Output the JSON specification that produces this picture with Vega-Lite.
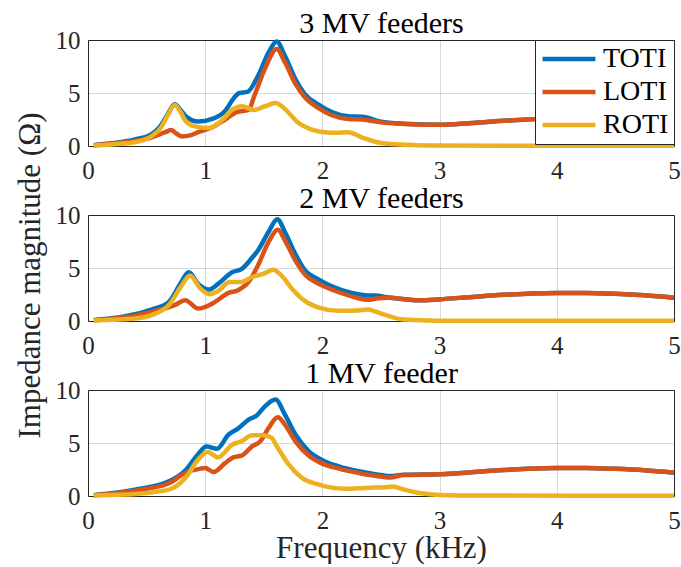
{
  "$schema": "https://vega.github.io/schema/vega-lite/v6.json",
  "padding": {"left": 13, "top": 7, "right": 0, "bottom": 0},
  "background": "white",
  "spacing": 69,
  "bounds": "flush",
  "resolve": {"scale": {"color": "independent"}, "legend": {"color": "independent"}},
  "config": {
    "font": "Liberation Serif",
    "view": {"stroke": "#262626", "strokeWidth": 1},
    "axis": {
      "labelFont": "Liberation Serif", "labelFontSize": 25, "labelColor": "#262626", "labelFlush": false,
      "titleFont": "Liberation Serif", "titleFontSize": 31, "titleFontWeight": "normal", "titleColor": "#262626",
      "grid": true, "gridColor": "#262626", "gridOpacity": 0.18, "gridWidth": 1,
      "domain": false, "ticks": false, "tickSize": 0
    },
    "axisX": {"labelPadding": 12},
    "axisY": {"labelPadding": 8},
    "legend": {
      "labelFont": "Liberation Serif", "labelFontSize": 28, "labelColor": "#000000",
      "strokeColor": "#262626", "fillColor": "white", "padding": 5, "cornerRadius": 0,
      "symbolType": "stroke", "symbolSize": 2800, "symbolStrokeWidth": 4.5,
      "rowPadding": 5, "labelOffset": 5, "clipHeight": 28
    }
  },
  "datasets": {
    "d": [
      {"p":3,"s":"TOTI","f":0.05,"z":0.08},{"p":3,"s":"TOTI","f":0.2,"z":0.25},{"p":3,"s":"TOTI","f":0.4,"z":0.62},{"p":3,"s":"TOTI","f":0.54,"z":1.1},{"p":3,"s":"TOTI","f":0.62,"z":1.9},{"p":3,"s":"TOTI","f":0.68,"z":3.0},{"p":3,"s":"TOTI","f":0.74,"z":3.95},{"p":3,"s":"TOTI","f":0.79,"z":3.4},{"p":3,"s":"TOTI","f":0.84,"z":2.75},{"p":3,"s":"TOTI","f":0.94,"z":2.3},{"p":3,"s":"TOTI","f":1.06,"z":2.55},{"p":3,"s":"TOTI","f":1.17,"z":3.3},{"p":3,"s":"TOTI","f":1.25,"z":4.6},{"p":3,"s":"TOTI","f":1.29,"z":5.0},{"p":3,"s":"TOTI","f":1.36,"z":5.1},{"p":3,"s":"TOTI","f":1.45,"z":6.6},{"p":3,"s":"TOTI","f":1.54,"z":8.8},{"p":3,"s":"TOTI","f":1.61,"z":9.85},{"p":3,"s":"TOTI","f":1.68,"z":8.5},{"p":3,"s":"TOTI","f":1.77,"z":6.3},{"p":3,"s":"TOTI","f":1.85,"z":4.9},{"p":3,"s":"TOTI","f":1.97,"z":3.87},{"p":3,"s":"TOTI","f":2.08,"z":3.2},{"p":3,"s":"TOTI","f":2.22,"z":2.8},{"p":3,"s":"TOTI","f":2.34,"z":2.75},{"p":3,"s":"TOTI","f":2.5,"z":2.3},{"p":3,"s":"TOTI","f":2.7,"z":2.1},{"p":3,"s":"TOTI","f":3.0,"z":2.0},{"p":3,"s":"TOTI","f":3.25,"z":2.15},{"p":3,"s":"TOTI","f":3.5,"z":2.35},{"p":3,"s":"TOTI","f":3.75,"z":2.5},{"p":3,"s":"TOTI","f":4.0,"z":2.6},{"p":3,"s":"TOTI","f":4.25,"z":2.62},{"p":3,"s":"TOTI","f":4.5,"z":2.55},{"p":3,"s":"TOTI","f":4.75,"z":2.4},{"p":3,"s":"TOTI","f":5.0,"z":2.2},
      {"p":3,"s":"LOTI","f":0.05,"z":0.08},{"p":3,"s":"LOTI","f":0.2,"z":0.22},{"p":3,"s":"LOTI","f":0.4,"z":0.5},{"p":3,"s":"LOTI","f":0.54,"z":0.8},{"p":3,"s":"LOTI","f":0.66,"z":1.3},{"p":3,"s":"LOTI","f":0.71,"z":1.5},{"p":3,"s":"LOTI","f":0.75,"z":1.2},{"p":3,"s":"LOTI","f":0.8,"z":0.9},{"p":3,"s":"LOTI","f":0.87,"z":1.0},{"p":3,"s":"LOTI","f":0.94,"z":1.3},{"p":3,"s":"LOTI","f":1.06,"z":1.76},{"p":3,"s":"LOTI","f":1.17,"z":2.5},{"p":3,"s":"LOTI","f":1.27,"z":3.2},{"p":3,"s":"LOTI","f":1.37,"z":3.4},{"p":3,"s":"LOTI","f":1.42,"z":4.75},{"p":3,"s":"LOTI","f":1.51,"z":7.3},{"p":3,"s":"LOTI","f":1.61,"z":9.15},{"p":3,"s":"LOTI","f":1.68,"z":7.9},{"p":3,"s":"LOTI","f":1.77,"z":5.85},{"p":3,"s":"LOTI","f":1.85,"z":4.6},{"p":3,"s":"LOTI","f":1.97,"z":3.55},{"p":3,"s":"LOTI","f":2.08,"z":2.9},{"p":3,"s":"LOTI","f":2.22,"z":2.55},{"p":3,"s":"LOTI","f":2.34,"z":2.5},{"p":3,"s":"LOTI","f":2.5,"z":2.23},{"p":3,"s":"LOTI","f":2.7,"z":2.08},{"p":3,"s":"LOTI","f":3.0,"z":2.0},{"p":3,"s":"LOTI","f":3.25,"z":2.15},{"p":3,"s":"LOTI","f":3.5,"z":2.35},{"p":3,"s":"LOTI","f":3.75,"z":2.5},{"p":3,"s":"LOTI","f":4.0,"z":2.6},{"p":3,"s":"LOTI","f":4.25,"z":2.62},{"p":3,"s":"LOTI","f":4.5,"z":2.55},{"p":3,"s":"LOTI","f":4.75,"z":2.4},{"p":3,"s":"LOTI","f":5.0,"z":2.2},
      {"p":3,"s":"ROTI","f":0.05,"z":0.05},{"p":3,"s":"ROTI","f":0.2,"z":0.15},{"p":3,"s":"ROTI","f":0.4,"z":0.35},{"p":3,"s":"ROTI","f":0.54,"z":0.9},{"p":3,"s":"ROTI","f":0.62,"z":1.7},{"p":3,"s":"ROTI","f":0.68,"z":2.9},{"p":3,"s":"ROTI","f":0.74,"z":3.87},{"p":3,"s":"ROTI","f":0.79,"z":3.2},{"p":3,"s":"ROTI","f":0.83,"z":2.4},{"p":3,"s":"ROTI","f":0.91,"z":1.85},{"p":3,"s":"ROTI","f":1.03,"z":1.7},{"p":3,"s":"ROTI","f":1.14,"z":2.4},{"p":3,"s":"ROTI","f":1.24,"z":3.5},{"p":3,"s":"ROTI","f":1.31,"z":3.75},{"p":3,"s":"ROTI","f":1.42,"z":3.4},{"p":3,"s":"ROTI","f":1.51,"z":3.75},{"p":3,"s":"ROTI","f":1.6,"z":4.05},{"p":3,"s":"ROTI","f":1.68,"z":3.5},{"p":3,"s":"ROTI","f":1.79,"z":2.23},{"p":3,"s":"ROTI","f":1.91,"z":1.54},{"p":3,"s":"ROTI","f":2.02,"z":1.3},{"p":3,"s":"ROTI","f":2.12,"z":1.25},{"p":3,"s":"ROTI","f":2.22,"z":1.3},{"p":3,"s":"ROTI","f":2.34,"z":0.8},{"p":3,"s":"ROTI","f":2.45,"z":0.4},{"p":3,"s":"ROTI","f":2.58,"z":0.19},{"p":3,"s":"ROTI","f":2.8,"z":0.08},{"p":3,"s":"ROTI","f":3.0,"z":0.05},{"p":3,"s":"ROTI","f":4.0,"z":0.03},{"p":3,"s":"ROTI","f":5.0,"z":0.03},
      {"p":2,"s":"TOTI","f":0.05,"z":0.08},{"p":2,"s":"TOTI","f":0.2,"z":0.25},{"p":2,"s":"TOTI","f":0.4,"z":0.64},{"p":2,"s":"TOTI","f":0.54,"z":1.08},{"p":2,"s":"TOTI","f":0.69,"z":1.8},{"p":2,"s":"TOTI","f":0.78,"z":3.36},{"p":2,"s":"TOTI","f":0.86,"z":4.6},{"p":2,"s":"TOTI","f":0.94,"z":3.5},{"p":2,"s":"TOTI","f":1.03,"z":2.96},{"p":2,"s":"TOTI","f":1.11,"z":3.5},{"p":2,"s":"TOTI","f":1.23,"z":4.6},{"p":2,"s":"TOTI","f":1.31,"z":4.9},{"p":2,"s":"TOTI","f":1.4,"z":5.96},{"p":2,"s":"TOTI","f":1.45,"z":6.65},{"p":2,"s":"TOTI","f":1.54,"z":8.4},{"p":2,"s":"TOTI","f":1.615,"z":9.6},{"p":2,"s":"TOTI","f":1.68,"z":8.4},{"p":2,"s":"TOTI","f":1.77,"z":6.3},{"p":2,"s":"TOTI","f":1.85,"z":4.8},{"p":2,"s":"TOTI","f":1.97,"z":3.9},{"p":2,"s":"TOTI","f":2.08,"z":3.27},{"p":2,"s":"TOTI","f":2.25,"z":2.64},{"p":2,"s":"TOTI","f":2.39,"z":2.4},{"p":2,"s":"TOTI","f":2.45,"z":2.4},{"p":2,"s":"TOTI","f":2.55,"z":2.25},{"p":2,"s":"TOTI","f":2.83,"z":1.95},{"p":2,"s":"TOTI","f":3.0,"z":2.05},{"p":2,"s":"TOTI","f":3.25,"z":2.25},{"p":2,"s":"TOTI","f":3.5,"z":2.45},{"p":2,"s":"TOTI","f":3.75,"z":2.58},{"p":2,"s":"TOTI","f":4.0,"z":2.65},{"p":2,"s":"TOTI","f":4.25,"z":2.65},{"p":2,"s":"TOTI","f":4.5,"z":2.57},{"p":2,"s":"TOTI","f":4.75,"z":2.42},{"p":2,"s":"TOTI","f":5.0,"z":2.2},
      {"p":2,"s":"LOTI","f":0.05,"z":0.08},{"p":2,"s":"LOTI","f":0.2,"z":0.22},{"p":2,"s":"LOTI","f":0.4,"z":0.5},{"p":2,"s":"LOTI","f":0.54,"z":0.86},{"p":2,"s":"LOTI","f":0.74,"z":1.5},{"p":2,"s":"LOTI","f":0.83,"z":1.95},{"p":2,"s":"LOTI","f":0.94,"z":1.17},{"p":2,"s":"LOTI","f":1.06,"z":1.64},{"p":2,"s":"LOTI","f":1.2,"z":2.65},{"p":2,"s":"LOTI","f":1.28,"z":2.9},{"p":2,"s":"LOTI","f":1.37,"z":3.68},{"p":2,"s":"LOTI","f":1.45,"z":5.24},{"p":2,"s":"LOTI","f":1.54,"z":7.44},{"p":2,"s":"LOTI","f":1.62,"z":8.6},{"p":2,"s":"LOTI","f":1.68,"z":7.6},{"p":2,"s":"LOTI","f":1.77,"z":5.7},{"p":2,"s":"LOTI","f":1.85,"z":4.4},{"p":2,"s":"LOTI","f":1.97,"z":3.5},{"p":2,"s":"LOTI","f":2.11,"z":2.83},{"p":2,"s":"LOTI","f":2.25,"z":2.33},{"p":2,"s":"LOTI","f":2.39,"z":2.0},{"p":2,"s":"LOTI","f":2.45,"z":2.1},{"p":2,"s":"LOTI","f":2.55,"z":2.2},{"p":2,"s":"LOTI","f":2.83,"z":1.95},{"p":2,"s":"LOTI","f":3.0,"z":2.05},{"p":2,"s":"LOTI","f":3.25,"z":2.25},{"p":2,"s":"LOTI","f":3.5,"z":2.45},{"p":2,"s":"LOTI","f":3.75,"z":2.58},{"p":2,"s":"LOTI","f":4.0,"z":2.65},{"p":2,"s":"LOTI","f":4.25,"z":2.65},{"p":2,"s":"LOTI","f":4.5,"z":2.57},{"p":2,"s":"LOTI","f":4.75,"z":2.42},{"p":2,"s":"LOTI","f":5.0,"z":2.2},
      {"p":2,"s":"ROTI","f":0.05,"z":0.05},{"p":2,"s":"ROTI","f":0.2,"z":0.12},{"p":2,"s":"ROTI","f":0.4,"z":0.23},{"p":2,"s":"ROTI","f":0.54,"z":0.55},{"p":2,"s":"ROTI","f":0.69,"z":1.5},{"p":2,"s":"ROTI","f":0.8,"z":3.36},{"p":2,"s":"ROTI","f":0.87,"z":4.3},{"p":2,"s":"ROTI","f":0.96,"z":3.05},{"p":2,"s":"ROTI","f":1.04,"z":2.52},{"p":2,"s":"ROTI","f":1.11,"z":2.83},{"p":2,"s":"ROTI","f":1.21,"z":3.68},{"p":2,"s":"ROTI","f":1.31,"z":3.68},{"p":2,"s":"ROTI","f":1.4,"z":4.15},{"p":2,"s":"ROTI","f":1.5,"z":4.46},{"p":2,"s":"ROTI","f":1.58,"z":4.84},{"p":2,"s":"ROTI","f":1.65,"z":4.3},{"p":2,"s":"ROTI","f":1.74,"z":3.05},{"p":2,"s":"ROTI","f":1.85,"z":1.9},{"p":2,"s":"ROTI","f":1.97,"z":1.27},{"p":2,"s":"ROTI","f":2.14,"z":0.96},{"p":2,"s":"ROTI","f":2.3,"z":1.0},{"p":2,"s":"ROTI","f":2.39,"z":1.08},{"p":2,"s":"ROTI","f":2.45,"z":0.9},{"p":2,"s":"ROTI","f":2.53,"z":0.6},{"p":2,"s":"ROTI","f":2.69,"z":0.14},{"p":2,"s":"ROTI","f":2.98,"z":0.03},{"p":2,"s":"ROTI","f":5.0,"z":0.02},
      {"p":1,"s":"TOTI","f":0.05,"z":0.08},{"p":1,"s":"TOTI","f":0.2,"z":0.25},{"p":1,"s":"TOTI","f":0.4,"z":0.6},{"p":1,"s":"TOTI","f":0.69,"z":1.38},{"p":1,"s":"TOTI","f":0.83,"z":2.4},{"p":1,"s":"TOTI","f":0.94,"z":3.96},{"p":1,"s":"TOTI","f":1.01,"z":4.68},{"p":1,"s":"TOTI","f":1.1,"z":4.46},{"p":1,"s":"TOTI","f":1.2,"z":5.8},{"p":1,"s":"TOTI","f":1.28,"z":6.35},{"p":1,"s":"TOTI","f":1.37,"z":7.2},{"p":1,"s":"TOTI","f":1.44,"z":7.6},{"p":1,"s":"TOTI","f":1.51,"z":8.46},{"p":1,"s":"TOTI","f":1.6,"z":9.1},{"p":1,"s":"TOTI","f":1.68,"z":7.67},{"p":1,"s":"TOTI","f":1.77,"z":5.8},{"p":1,"s":"TOTI","f":1.88,"z":4.27},{"p":1,"s":"TOTI","f":1.99,"z":3.43},{"p":1,"s":"TOTI","f":2.14,"z":2.8},{"p":1,"s":"TOTI","f":2.31,"z":2.33},{"p":1,"s":"TOTI","f":2.45,"z":2.05},{"p":1,"s":"TOTI","f":2.58,"z":1.88},{"p":1,"s":"TOTI","f":2.69,"z":2.0},{"p":1,"s":"TOTI","f":3.0,"z":2.05},{"p":1,"s":"TOTI","f":3.25,"z":2.22},{"p":1,"s":"TOTI","f":3.5,"z":2.42},{"p":1,"s":"TOTI","f":3.75,"z":2.56},{"p":1,"s":"TOTI","f":4.0,"z":2.63},{"p":1,"s":"TOTI","f":4.25,"z":2.64},{"p":1,"s":"TOTI","f":4.5,"z":2.56},{"p":1,"s":"TOTI","f":4.75,"z":2.42},{"p":1,"s":"TOTI","f":5.0,"z":2.2},
      {"p":1,"s":"LOTI","f":0.05,"z":0.08},{"p":1,"s":"LOTI","f":0.2,"z":0.22},{"p":1,"s":"LOTI","f":0.4,"z":0.5},{"p":1,"s":"LOTI","f":0.69,"z":1.2},{"p":1,"s":"LOTI","f":0.83,"z":2.17},{"p":1,"s":"LOTI","f":0.96,"z":2.58},{"p":1,"s":"LOTI","f":1.0,"z":2.64},{"p":1,"s":"LOTI","f":1.07,"z":2.26},{"p":1,"s":"LOTI","f":1.17,"z":3.1},{"p":1,"s":"LOTI","f":1.24,"z":3.65},{"p":1,"s":"LOTI","f":1.31,"z":3.8},{"p":1,"s":"LOTI","f":1.4,"z":4.68},{"p":1,"s":"LOTI","f":1.47,"z":5.16},{"p":1,"s":"LOTI","f":1.54,"z":6.4},{"p":1,"s":"LOTI","f":1.62,"z":7.42},{"p":1,"s":"LOTI","f":1.68,"z":6.73},{"p":1,"s":"LOTI","f":1.77,"z":5.16},{"p":1,"s":"LOTI","f":1.88,"z":3.84},{"p":1,"s":"LOTI","f":1.99,"z":3.1},{"p":1,"s":"LOTI","f":2.14,"z":2.58},{"p":1,"s":"LOTI","f":2.31,"z":2.17},{"p":1,"s":"LOTI","f":2.45,"z":1.9},{"p":1,"s":"LOTI","f":2.58,"z":1.74},{"p":1,"s":"LOTI","f":2.69,"z":1.98},{"p":1,"s":"LOTI","f":3.0,"z":2.05},{"p":1,"s":"LOTI","f":3.25,"z":2.22},{"p":1,"s":"LOTI","f":3.5,"z":2.42},{"p":1,"s":"LOTI","f":3.75,"z":2.56},{"p":1,"s":"LOTI","f":4.0,"z":2.63},{"p":1,"s":"LOTI","f":4.25,"z":2.64},{"p":1,"s":"LOTI","f":4.5,"z":2.56},{"p":1,"s":"LOTI","f":4.75,"z":2.42},{"p":1,"s":"LOTI","f":5.0,"z":2.2},
      {"p":1,"s":"ROTI","f":0.05,"z":0.05},{"p":1,"s":"ROTI","f":0.2,"z":0.1},{"p":1,"s":"ROTI","f":0.4,"z":0.19},{"p":1,"s":"ROTI","f":0.69,"z":0.6},{"p":1,"s":"ROTI","f":0.83,"z":1.7},{"p":1,"s":"ROTI","f":0.94,"z":3.43},{"p":1,"s":"ROTI","f":1.02,"z":4.15},{"p":1,"s":"ROTI","f":1.11,"z":3.65},{"p":1,"s":"ROTI","f":1.23,"z":4.84},{"p":1,"s":"ROTI","f":1.31,"z":5.16},{"p":1,"s":"ROTI","f":1.4,"z":5.72},{"p":1,"s":"ROTI","f":1.48,"z":5.72},{"p":1,"s":"ROTI","f":1.56,"z":5.54},{"p":1,"s":"ROTI","f":1.62,"z":4.53},{"p":1,"s":"ROTI","f":1.71,"z":3.0},{"p":1,"s":"ROTI","f":1.82,"z":1.76},{"p":1,"s":"ROTI","f":1.97,"z":1.07},{"p":1,"s":"ROTI","f":2.19,"z":0.69},{"p":1,"s":"ROTI","f":2.4,"z":0.78},{"p":1,"s":"ROTI","f":2.53,"z":0.82},{"p":1,"s":"ROTI","f":2.6,"z":0.9},{"p":1,"s":"ROTI","f":2.7,"z":0.6},{"p":1,"s":"ROTI","f":2.83,"z":0.28},{"p":1,"s":"ROTI","f":3.0,"z":0.1},{"p":1,"s":"ROTI","f":3.3,"z":0.04},{"p":1,"s":"ROTI","f":5.0,"z":0.03}
    ]
  },
  "vconcat": [
    {
      "width": 586, "height": 106,
      "data": {"name": "d"},
      "transform": [{"filter": "datum.p == 3"}],
      "resolve": {"axis": {"x": "independent"}},
      "encoding": {
        "y": {"field": "z", "type": "quantitative", "scale": {"domain": [0, 10], "nice": false}, "axis": {"values": [0,5,10], "title": null}},
        "color": {"field": "s", "type": "nominal", "scale": {"domain": ["TOTI","LOTI","ROTI"], "range": ["#0072BD","#D95319","#EDB120"]}, "legend": {"title": null, "orient": "top-right", "offset": 0}}
      },
      "layer": [
        {"transform": [{"filter": "datum.s == 'TOTI'"}], "mark": {"type": "line", "strokeWidth": 4.5, "interpolate": "monotone"},
         "encoding": {"x": {"field": "f", "type": "quantitative", "scale": {"domain": [0, 5], "nice": false}, "axis": {"values": [0,1,2,3,4,5], "title": null}}}},
        {"transform": [{"filter": "datum.s == 'LOTI'"}], "mark": {"type": "line", "strokeWidth": 4.5, "interpolate": "monotone"},
         "encoding": {"x": {"field": "f", "type": "quantitative", "scale": {"domain": [0, 5], "nice": false}, "axis": {"orient": "top", "title": "3 MV feeders", "labels": false, "grid": false, "ticks": false, "domain": false, "titlePadding": 2, "titleFontSize": 30, "titleColor": "#000000", "values": [0]}}}},
        {"transform": [{"filter": "datum.s == 'ROTI'"}], "mark": {"type": "line", "strokeWidth": 4.5, "interpolate": "monotone"},
         "encoding": {"x": {"field": "f", "type": "quantitative", "scale": {"domain": [0, 5], "nice": false}, "axis": null}}}
      ]
    },
    {
      "width": 586, "height": 106,
      "data": {"name": "d"},
      "transform": [{"filter": "datum.p == 2"}],
      "resolve": {"axis": {"x": "independent"}},
      "encoding": {
        "y": {"field": "z", "type": "quantitative", "scale": {"domain": [0, 10], "nice": false}, "axis": {"values": [0,5,10], "title": "Impedance magnitude (Ω)", "titlePadding": 9, "titleY": 60}}
      },
      "layer": [
        {"transform": [{"filter": "datum.s == 'TOTI'"}], "mark": {"type": "line", "strokeWidth": 4.5, "interpolate": "monotone", "color": "#0072BD"},
         "encoding": {"x": {"field": "f", "type": "quantitative", "scale": {"domain": [0, 5], "nice": false}, "axis": {"values": [0,1,2,3,4,5], "title": null}}}},
        {"transform": [{"filter": "datum.s == 'LOTI'"}], "mark": {"type": "line", "strokeWidth": 4.5, "interpolate": "monotone", "color": "#D95319"},
         "encoding": {"x": {"field": "f", "type": "quantitative", "scale": {"domain": [0, 5], "nice": false}, "axis": {"orient": "top", "title": "2 MV feeders", "labels": false, "grid": false, "ticks": false, "domain": false, "titlePadding": 2, "titleFontSize": 30, "titleColor": "#000000", "values": [0]}}}},
        {"transform": [{"filter": "datum.s == 'ROTI'"}], "mark": {"type": "line", "strokeWidth": 4.5, "interpolate": "monotone", "color": "#EDB120"},
         "encoding": {"x": {"field": "f", "type": "quantitative", "scale": {"domain": [0, 5], "nice": false}, "axis": null}}}
      ]
    },
    {
      "width": 586, "height": 106,
      "data": {"name": "d"},
      "transform": [{"filter": "datum.p == 1"}],
      "resolve": {"axis": {"x": "independent"}},
      "encoding": {
        "y": {"field": "z", "type": "quantitative", "scale": {"domain": [0, 10], "nice": false}, "axis": {"values": [0,5,10], "title": null}}
      },
      "layer": [
        {"transform": [{"filter": "datum.s == 'TOTI'"}], "mark": {"type": "line", "strokeWidth": 4.5, "interpolate": "monotone", "color": "#0072BD"},
         "encoding": {"x": {"field": "f", "type": "quantitative", "scale": {"domain": [0, 5], "nice": false}, "axis": {"values": [0,1,2,3,4,5], "title": "Frequency (kHz)", "titlePadding": 0}}}},
        {"transform": [{"filter": "datum.s == 'LOTI'"}], "mark": {"type": "line", "strokeWidth": 4.5, "interpolate": "monotone", "color": "#D95319"},
         "encoding": {"x": {"field": "f", "type": "quantitative", "scale": {"domain": [0, 5], "nice": false}, "axis": {"orient": "top", "title": "1 MV feeder", "labels": false, "grid": false, "ticks": false, "domain": false, "titlePadding": 2, "titleFontSize": 30, "titleColor": "#000000", "values": [0]}}}},
        {"transform": [{"filter": "datum.s == 'ROTI'"}], "mark": {"type": "line", "strokeWidth": 4.5, "interpolate": "monotone", "color": "#EDB120"},
         "encoding": {"x": {"field": "f", "type": "quantitative", "scale": {"domain": [0, 5], "nice": false}, "axis": null}}}
      ]
    }
  ]
}
